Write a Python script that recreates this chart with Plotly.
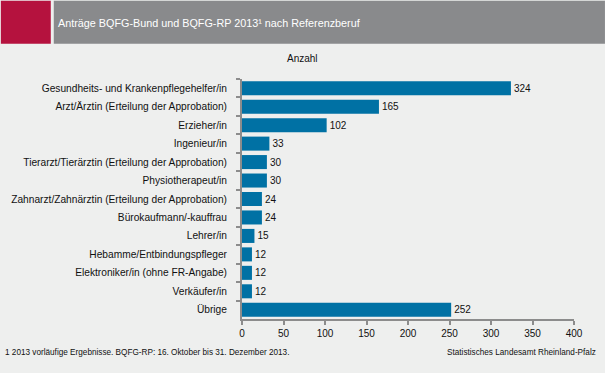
import plotly.graph_objects as go

categories = [
    "Gesundheits- und Krankenpflegehelfer/in",
    "Arzt/Ärztin (Erteilung der Approbation)",
    "Erzieher/in",
    "Ingenieur/in",
    "Tierarzt/Tierärztin (Erteilung der Approbation)",
    "Physiotherapeut/in",
    "Zahnarzt/Zahnärztin (Erteilung der Approbation)",
    "Bürokaufmann/-kauffrau",
    "Lehrer/in",
    "Hebamme/Entbindungspfleger",
    "Elektroniker/in (ohne FR-Angabe)",
    "Verkäufer/in",
    "Übrige",
]
values = [324, 165, 102, 33, 30, 30, 24, 24, 15, 12, 12, 12, 252]
x_ticks = [0, 50, 100, 150, 200, 250, 300, 350, 400]

title = "Anträge BQFG-Bund und BQFG-RP 2013¹ nach Referenzberuf"
footnote = "1 2013 vorläufige Ergebnisse. BQFG-RP: 16. Oktober bis 31. Dezember 2013."
source = "Statistisches Landesamt Rheinland-Pfalz"

BG = "#EEEFEE"
BAR = "#0071A4"
AX = "#8C8C8C"
FONT = "Liberation Sans, Arial, sans-serif"

fig = go.Figure(go.Bar(
    x=values, y=categories, orientation="h",
    marker=dict(color=BAR, line=dict(width=0)),
    text=[str(v) for v in values], textposition="outside",
    textfont=dict(size=10, color="#111111", family=FONT),
    cliponaxis=False, width=0.76, hoverinfo="skip",
))

W, H = 605, 373
ml, mr, mt, mb = 241.5, 31, 78.5, 53.5
PW, PH = W - ml - mr, H - mt - mb
fig.update_layout(
    width=W, height=H,
    paper_bgcolor=BG, plot_bgcolor=BG,
    margin=dict(l=ml, r=mr, t=mt, b=mb, pad=0),
    showlegend=False,
    font=dict(family=FONT, size=10, color="#111111"),
    xaxis=dict(range=[0, 400], tickvals=x_ticks, showgrid=False, zeroline=False,
               showline=True, linecolor=AX, linewidth=2, ticks="outside",
               tickcolor=AX, ticklen=4, tickwidth=2, tickfont=dict(size=10),
               fixedrange=True),
    yaxis=dict(autorange="reversed", categoryorder="array", categoryarray=categories,
               showgrid=False, zeroline=False, showline=True, linecolor=AX,
               linewidth=2, ticks="outside", tickson="boundaries", tickcolor=AX,
               ticklen=4, tickwidth=2, tickfont=dict(size=10.2),
               ticklabelstandoff=11, fixedrange=True),
    shapes=[
        dict(type="rect", xref="paper", yref="paper", x0=-ml / PW, x1=(50 - ml) / PW,
             y0=1 + (mt - 43) / PH, y1=1 + mt / PH,
             fillcolor="#B5123E", line=dict(width=0), layer="above"),
        dict(type="rect", xref="paper", yref="paper", x0=(53 - ml) / PW, x1=1 + mr / PW,
             y0=1 + (mt - 43) / PH, y1=1 + mt / PH,
             fillcolor="#898A8C", line=dict(width=0), layer="above"),
    ],
    annotations=[
        dict(text=title, xref="paper", yref="paper",
             x=(55 - ml) / PW, y=1 + (mt - 22) / PH,
             xanchor="left", yanchor="middle", showarrow=False,
             font=dict(size=10.8, color="white")),
        dict(text="Anzahl", xref="paper", yref="paper",
             x=(302 - ml) / PW, y=1 + (mt - 58) / PH,
             xanchor="center", yanchor="middle", showarrow=False,
             font=dict(size=10, color="#111111")),
        dict(text=footnote, xref="paper", yref="paper",
             x=(2 - ml) / PW, y=-(353 - (H - mb)) / PH,
             xanchor="left", yanchor="middle", showarrow=False,
             font=dict(size=8.2, color="#111111")),
        dict(text=source, xref="paper", yref="paper",
             x=1 + (598 - (W - mr)) / PW, y=-(353 - (H - mb)) / PH,
             xanchor="right", yanchor="middle", showarrow=False,
             font=dict(size=8.2, color="#111111")),
    ],
)

fig.write_html(
    "out.html",
    config={"displayModeBar": False},
    post_script="document.body.style.margin='0';document.body.style.overflow='hidden';",
)
